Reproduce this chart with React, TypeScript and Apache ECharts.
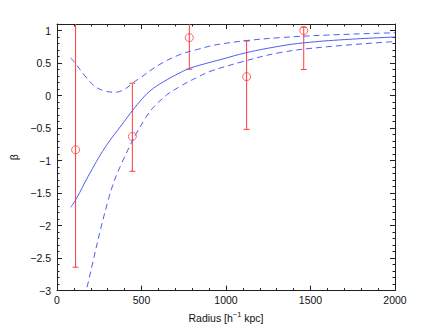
import React, { useEffect, useRef } from "react";
import * as echarts from "echarts";

// Measured points with error bars
const radius = [110, 446, 783, 1122, 1460];
const beta = [-0.835, -0.63, 0.89, 0.29, 1.0];
const betaLow = [-2.64, -1.165, 0.405, -0.52, 0.4];
const betaHigh = [1.6, 0.19, 1.4, 0.84, 1.05];

// Model curve (solid)
const fitX = [81, 116, 185, 284, 383, 432, 491, 550, 629, 728, 787, 905, 964, 1122, 1320, 1460, 1700, 2000];
const fitY = [-1.72, -1.58, -1.24, -0.8, -0.45, -0.28, -0.09, 0.07, 0.21, 0.35, 0.42, 0.51, 0.55, 0.66, 0.76, 0.81, 0.86, 0.9];

// Upper confidence curve (dashed)
const upX = [81, 107, 166, 225, 284, 343, 402, 446, 491, 609, 728, 846, 905, 964, 1122, 1320, 1600, 2000];
const upY = [0.58, 0.5, 0.3, 0.14, 0.07, 0.05, 0.1, 0.19, 0.27, 0.48, 0.63, 0.72, 0.76, 0.79, 0.845, 0.89, 0.93, 0.965];

// Lower confidence curve (dashed)
const loX = [140, 175, 304, 383, 530, 629, 728, 846, 905, 1083, 1320, 1600, 2000];
const loY = [-3.4, -2.98, -1.6, -1.04, -0.32, -0.035, 0.14, 0.3, 0.37, 0.51, 0.66, 0.75, 0.83];

const xTicks = [0, 500, 1000, 1500, 2000];
const yTicks = [-3, -2.5, -2, -1.5, -1, -0.5, 0, 0.5, 1];

const BLUE = "#4d5ef2";
const RED = "#ff3b3b";
const FONT = "Liberation Sans";
const AXIS = "#222";

export default function App() {
  const ref = useRef<HTMLDivElement>(null);
  useEffect(() => {
    if (!ref.current) return;
    const chart = echarts.init(ref.current, null, { renderer: "svg" });
    const zip = (xs: number[], ys: number[]) => xs.map((x, i) => [x, ys[i]]);
    const fmt = (v: number) => (v < 0 ? "\u2212" + String(Math.abs(v)) : String(v));
    const baseAxis = {
      axisLine: { show: true, onZero: false, lineStyle: { color: AXIS, width: 1 } },
      axisTick: { show: true, inside: true, length: 5, lineStyle: { color: AXIS } },
      minorTick: { show: true, splitNumber: 5, length: 2.5, lineStyle: { color: AXIS } },
      splitLine: { show: false },
    };
    const lineBase = {
      type: "line",
      smooth: 0.4,
      showSymbol: false,
      clip: true,
    };
    chart.setOption({
      animation: false,
      grid: { left: 57, right: 41, top: 24, bottom: 37 },
      xAxis: [
        {
          ...baseAxis,
          type: "value",
          position: "bottom",
          min: 0,
          max: 2000,
          interval: 500,
          axisLabel: {
            color: "#111",
            fontFamily: FONT,
            fontSize: 10.5,
            margin: 4,
            formatter: (v: number) => (xTicks.includes(v) ? String(v) : ""),
          },
          name: "{a|Radius [h}{s|\u22121}{a| kpc]}",
          nameLocation: "middle",
          nameGap: 16,
          nameTextStyle: {
            rich: {
              a: { fontFamily: FONT, fontSize: 10.5, color: "#111" },
              s: { fontFamily: FONT, fontSize: 7.5, color: "#111", verticalAlign: "top", padding: [0, 0, 6, 0] },
            },
          },
        },
        {
          ...baseAxis,
          type: "value",
          position: "top",
          min: 0,
          max: 2000,
          interval: 500,
          axisLabel: { show: false },
        },
      ],
      yAxis: [
        {
          ...baseAxis,
          type: "value",
          position: "left",
          min: -3,
          max: 1.1,
          interval: 0.5,
          axisLabel: {
            color: "#111",
            fontFamily: FONT,
            fontSize: 10.5,
            margin: 6,
            showMaxLabel: false,
            formatter: (v: number) => (yTicks.includes(v) ? fmt(v) : ""),
          },
          name: "\u03b2",
          nameLocation: "middle",
          nameGap: 37,
          nameTextStyle: { fontFamily: FONT, fontSize: 10.5, color: "#111" },
        },
        {
          ...baseAxis,
          type: "value",
          position: "right",
          min: -3,
          max: 1.1,
          interval: 0.5,
          axisLabel: { show: false },
        },
      ],
      series: [
        { ...lineBase, data: zip(fitX, fitY), lineStyle: { color: BLUE, width: 1 } },
        { ...lineBase, data: zip(upX, upY), lineStyle: { color: BLUE, width: 1, type: [6, 4] } },
        { ...lineBase, data: zip(loX, loY), lineStyle: { color: BLUE, width: 1, type: [6, 4] } },
        {
          type: "custom",
          clip: true,
          data: radius.map((r, i) => [r, betaLow[i], betaHigh[i]]),
          renderItem: (params: any, api: any) => {
            const x = api.value(0);
            const lo = api.coord([x, api.value(1)]);
            const hi = api.coord([x, api.value(2)]);
            const cap = 3;
            return {
              type: "group",
              children: [
                { type: "line", shape: { x1: lo[0], y1: lo[1], x2: hi[0], y2: hi[1] }, style: { stroke: RED, lineWidth: 1 } },
                { type: "line", shape: { x1: lo[0] - cap, y1: lo[1], x2: lo[0] + cap, y2: lo[1] }, style: { stroke: RED, lineWidth: 1 } },
                { type: "line", shape: { x1: hi[0] - cap, y1: hi[1], x2: hi[0] + cap, y2: hi[1] }, style: { stroke: RED, lineWidth: 1 } },
              ],
            };
          },
        },
        {
          type: "scatter",
          data: zip(radius, beta),
          symbol: "circle",
          symbolSize: 8,
          itemStyle: { color: "rgba(0,0,0,0)", borderColor: RED, borderWidth: 1 },
        },
      ],
    });
    return () => chart.dispose();
  }, []);
  return (
    <div
      ref={ref}
      style={{ position: "fixed", left: 0, top: 0, width: 436, height: 328, background: "#fff" }}
    />
  );
}
